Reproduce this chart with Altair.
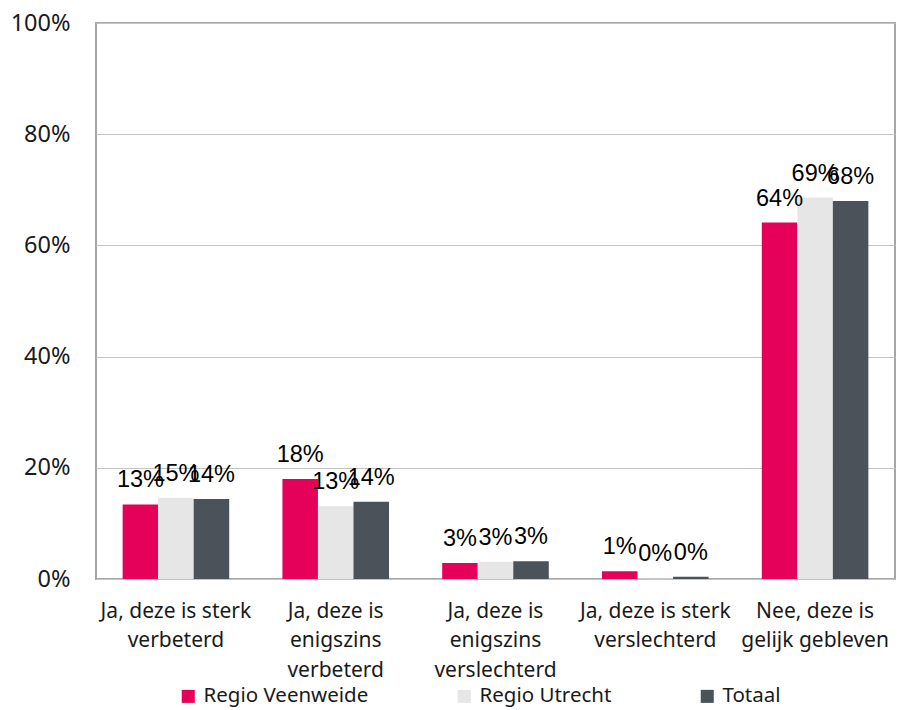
import altair as alt
import pandas as pd

# Answer categories ("|" marks a line break in the axis label)
categories = [
    "Ja, deze is sterk|verbeterd",
    "Ja, deze is|enigszins|verbeterd",
    "Ja, deze is|enigszins|verslechterd",
    "Ja, deze is sterk|verslechterd",
    "Nee, deze is|gelijk gebleven",
]
series = ["Regio Veenweide", "Regio Utrecht", "Totaal"]
colors = ["#E5005A", "#E6E6E6", "#4B525A"]

# Share of respondents per category (%)
veenweide = [13.4, 18.0, 2.9, 1.4, 64.1]
utrecht = [14.6, 13.1, 3.1, 0.1, 68.6]
totaal = [14.4, 13.9, 3.2, 0.4, 68.0]

y_ticks = [0, 20, 40, 60, 80, 100]

rows = []
for name, values in zip(series, [veenweide, utrecht, totaal]):
    for cat, v in zip(categories, values):
        rows.append({"categorie": cat, "reeks": name, "waarde": v})
df = pd.DataFrame(rows)

AXIS_FONT = "Noto Sans"
VALUE_FONT = "Liberation Sans"

x_enc = alt.X(
    "categorie:N",
    sort=categories,
    scale=alt.Scale(paddingInner=0.333, paddingOuter=0.1667),
    axis=alt.Axis(
        title=None,
        labelAngle=0,
        ticks=False,
        domain=False,
        labelExpr="split(datum.label, '|')",
        labelFont=AXIS_FONT,
        labelFontSize=21,
        labelColor="#1a1a1a",
        labelPadding=21,
        labelLineHeight=29.5,
        labelBaseline="top",
        labelLimit=300,
    ),
)
xoff_enc = alt.XOffset("reeks:N", sort=series)
y_enc = alt.Y(
    "waarde:Q",
    scale=alt.Scale(domain=[0, 100], nice=False),
    axis=alt.Axis(
        title=None,
        values=y_ticks,
        labelExpr="datum.value + '%'",
        ticks=False,
        domain=False,
        grid=True,
        gridColor="#C4C4C4",
        gridWidth=1,
        labelFont=AXIS_FONT,
        labelFontSize=23.5,
        labelColor="#1a1a1a",
        labelPadding=26,
    ),
)

bars = alt.Chart(df).mark_bar().encode(
    x=x_enc,
    xOffset=xoff_enc,
    y=y_enc,
    color=alt.Color(
        "reeks:N",
        sort=series,
        scale=alt.Scale(domain=series, range=colors),
        legend=alt.Legend(
            title=None,
            orient="none",
            direction="horizontal",
            legendX=82,
            legendY=663,
            symbolType="square",
            symbolSize=170,
            symbolStrokeWidth=0,
            labelFont=AXIS_FONT,
            labelFontSize=20.5,
            labelColor="#1a1a1a",
            labelLimit=400,
            columnPadding=85,
            labelOffset=5,
        ),
    ),
)

labels = alt.Chart(df).mark_text(
    font=VALUE_FONT,
    fontSize=23.5,
    color="#000000",
    baseline="alphabetic",
    dy=-17,
).encode(
    x=alt.X("categorie:N", sort=categories),
    xOffset=xoff_enc,
    y=alt.Y("waarde:Q"),
    text=alt.Text("label:N"),
).transform_calculate(label="format(datum.waarde, '.0f') + '%'")

chart = (
    alt.layer(bars, labels)
    .properties(
        width=799,
        height=556,
        autosize=alt.AutoSizeParams(type="none"),
        padding={"left": 96, "top": 23, "right": 3, "bottom": 131},
        background="white",
    )
    .configure_view(stroke="#A6A6A6", strokeWidth=2)
)

chart.save("out.html", embed_options={"renderer": "svg", "actions": False})
